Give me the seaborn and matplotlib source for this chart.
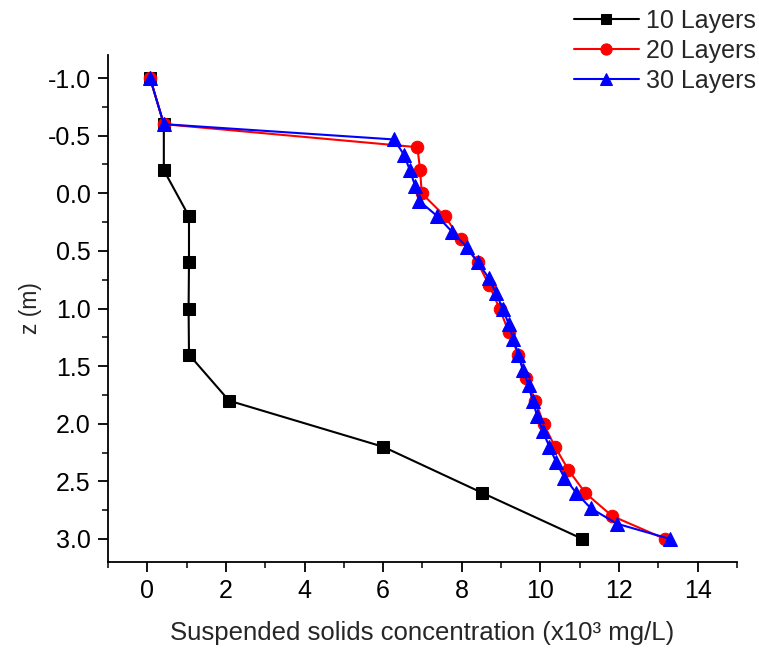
import numpy as np
import pandas as pd
import matplotlib
matplotlib.use("Agg")
import matplotlib.pyplot as plt
import seaborn as sns
from matplotlib.ticker import MultipleLocator, FormatStrFormatter

sns.set_style("ticks")
plt.rcParams['font.family'] = ['Liberation Sans', 'DejaVu Sans']

# ---- data ----
z10 = [-1.0, -0.6, -0.2, 0.2, 0.6, 1.0, 1.4, 1.8, 2.2, 2.6, 3.0]
c10 = [0.07, 0.42, 0.42, 1.06, 1.06, 1.05, 1.06, 2.08, 6.00, 8.52, 11.07]

z20 = [-1.0, -0.6, -0.4, -0.2, 0.0, 0.2, 0.4, 0.6, 0.8, 1.0, 1.2, 1.4, 1.6, 1.8,
       2.0, 2.2, 2.4, 2.6, 2.8, 3.0]
c20 = [0.07, 0.42, 6.87, 6.94, 6.98, 7.57, 7.97, 8.40, 8.70, 8.96, 9.19, 9.44,
       9.64, 9.87, 10.08, 10.37, 10.71, 11.14, 11.82, 13.17]

z30 = [-1.0, -0.6, -0.467, -0.333, -0.2, -0.067, 0.067, 0.2, 0.333, 0.467, 0.6,
       0.733, 0.867, 1.0, 1.133, 1.267, 1.4, 1.533, 1.667, 1.8, 1.933, 2.067,
       2.2, 2.333, 2.467, 2.6, 2.733, 2.867, 3.0]
c30 = [0.07, 0.42, 6.28, 6.53, 6.68, 6.81, 6.92, 7.38, 7.75, 8.13, 8.41, 8.68,
       8.87, 9.04, 9.19, 9.31, 9.44, 9.55, 9.70, 9.80, 9.92, 10.06, 10.23, 10.40,
       10.61, 10.91, 11.28, 11.94, 13.30]

series_names = ["10 Layers", "20 Layers", "30 Layers"]
colors = ["black", "#ff0000", "#0000ff"]
markers = ["s", "o", "^"]

df = pd.concat([
    pd.DataFrame({"conc": c10, "z": z10, "series": series_names[0]}),
    pd.DataFrame({"conc": c20, "z": z20, "series": series_names[1]}),
    pd.DataFrame({"conc": c30, "z": z30, "series": series_names[2]}),
], ignore_index=True)

fig = plt.figure(figsize=(7.59, 6.51), dpi=100)
ax = fig.add_axes([0.1423, 0.1367, 0.8287, 0.7788])

msizes = [8.5, 9, 10]
for name, col, mk, ms in zip(series_names, colors, markers, msizes):
    sub = df[df["series"] == name]
    sns.lineplot(data=sub, x="conc", y="z", sort=False, estimator=None,
                 color=col, marker=mk, markersize=ms, markeredgecolor=col,
                 linewidth=1.5, label=name, ax=ax)

ax.set_xlim(-1, 15)
ax.set_ylim(3.2, -1.2)
ax.xaxis.set_major_locator(MultipleLocator(2))
ax.xaxis.set_minor_locator(MultipleLocator(1))
ax.yaxis.set_major_locator(MultipleLocator(0.5))
ax.yaxis.set_minor_locator(MultipleLocator(0.25))
ax.yaxis.set_major_formatter(FormatStrFormatter('%.1f'))
ax.set_xticks([0, 2, 4, 6, 8, 10, 12, 14])

for s in ["top", "right"]:
    ax.spines[s].set_visible(False)
for s in ["left", "bottom"]:
    ax.spines[s].set_linewidth(1.3)
    ax.spines[s].set_color("black")

ax.tick_params(axis="both", which="major", direction="out", length=7.5, width=1.3,
               labelsize=18, colors="black", pad=5)
ax.tick_params(axis="both", which="minor", direction="out", length=4.5, width=1.3)

ax.set_xlabel("Suspended solids concentration (x10³ mg/L)", fontsize=18.5, labelpad=13)
ax.set_ylabel("z (m)", fontsize=16.5, labelpad=4)

leg = ax.legend(loc="upper right", bbox_to_anchor=(1.011, 1.004),
                bbox_transform=fig.transFigure, frameon=False, fontsize=18,
                handlelength=2.6, handletextpad=0.3, labelspacing=0.25,
                borderaxespad=0.05, markerscale=0.9)

fig.savefig("out.png", dpi=100)
